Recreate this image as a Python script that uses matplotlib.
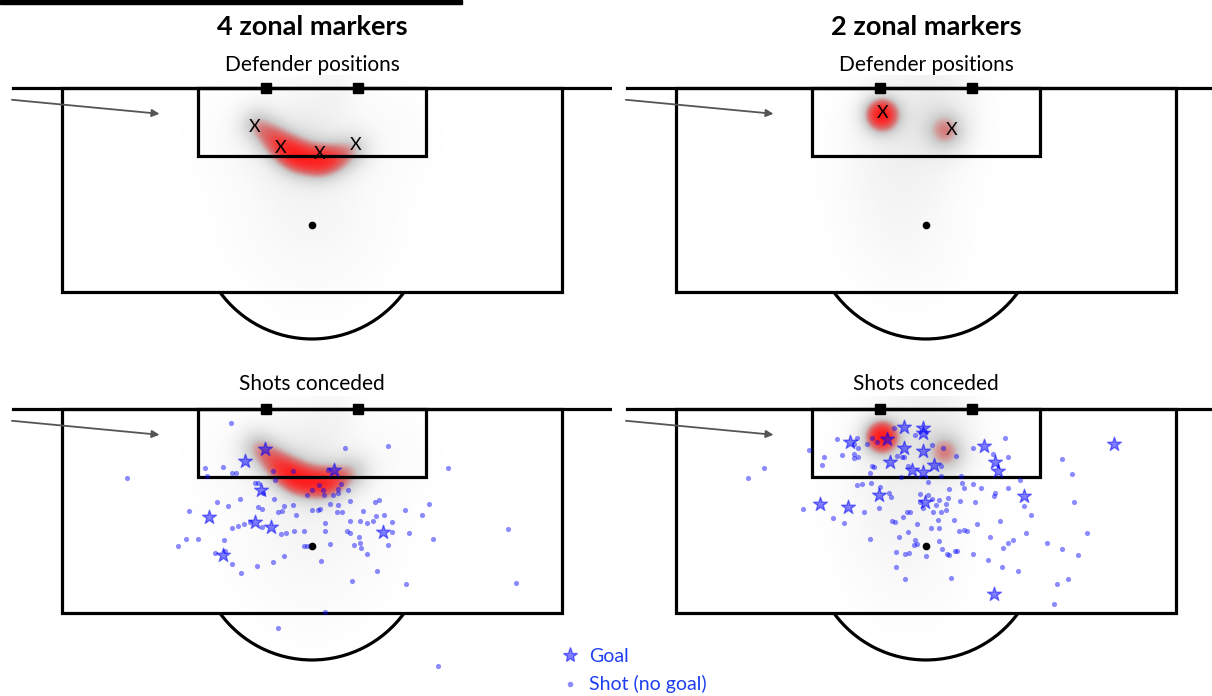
import numpy as np
import matplotlib
matplotlib.use('Agg')
import matplotlib.pyplot as plt
from matplotlib.colors import LinearSegmentedColormap
from matplotlib.patches import Rectangle, Arc
from matplotlib.lines import Line2D

plt.rcParams['font.family'] = ['Lato', 'DejaVu Sans']

############### 0. Data (metres: x across the box from the centre, y out from the goal line)
titles = ['4 zonal markers', '2 zonal markers']
row_titles = ['Defender positions', 'Shots conceded']

# average zonal marker positions
marks4_x = [-4.6, -2.5, 0.65, 3.55]
marks4_y = [3.15, 4.84, 5.3, 4.6]
marks2_x = [-3.47, 2.1]
marks2_y = [2.0, 3.4]

# defender density kernels: centre, weight, spread
heat4_x = [-4.5, -3.3, -2.2, -1.0, 0.6, 2.0, 3.4, -0.5, -1.0, -6.0, 6.0, 1.8, 0.0, -3.5, 3.5, 0.0]
heat4_y = [3.0, 4.0, 5.0, 5.7, 6.0, 5.7, 5.0, 4.8, 3.5, 4.5, 4.0, 0.2, 9.0, 11.0, 11.0, 15.0]
heat4_w = [0.55, 0.65, 0.85, 1.0, 1.0, 0.7, 0.45, 0.25, 0.08, 0.04, 0.04, 0.07, 0.05, 0.03, 0.03, 0.03]
heat4_s = [0.95, 0.95, 0.95, 0.95, 0.95, 0.95, 0.95, 2.2, 3.0, 2.5, 2.5, 1.2, 3.0, 3.0, 3.0, 3.0]

heat2_x = [-3.6, 1.6, -1.0, -2.5, -1.5, 1.0]
heat2_y = [2.2, 3.5, 3.0, 8.0, 13.0, 1.0]
heat2_w = [1.0, 0.45, 0.13, 0.05, 0.03, 0.07]
heat2_s = [0.95, 1.05, 2.8, 3.0, 3.0, 2.0]

# shots conceded, 4 zonal markers
goals4_x = [-3.8, -5.4, 1.8, -4.1, -8.3, -4.6, -3.3, 5.7, -7.2]
goals4_y = [3.2, 4.2, 4.9, 6.5, 8.7, 9.1, 9.5, 9.9, 11.8]
shots4_x = [-6.56, 2.66, 6.15, 10.94, -14.92, -8.60, -7.15, -6.48, -6.13, -8.44,
            -3.12, -1.51, 1.27, -2.96, -4.60, -4.33, 0.59, 2.34, 0.02, 0.86,
            2.07, 2.93, -0.38, 0.99, 1.72, 2.07, -3.93, -3.04, -5.81, -7.64,
            -6.77, -4.33, -4.01, -2.28, -1.53, -2.42, -2.74, -1.29, 0.02, 0.46,
            0.67, -9.90, 3.09, 1.45, 2.07, 5.10, 5.40, 9.46, 2.04, 2.40,
            4.11, 7.52, 8.87, 5.83, 5.14, 1.05, -6.45, -5.94, -5.46, -5.00,
            -4.06, -2.52, -2.12, -1.45, -0.67, 1.05, 3.06, 3.85, 4.44, 4.90,
            6.48, 2.85, 3.09, 6.48, 7.85, 3.77, 9.73, 15.81, -10.14, -9.19,
            -7.07, -10.83, -7.82, -6.99, -0.67, -0.38, -2.26, 1.45, 3.41, 3.85,
            3.93, 6.15, 4.46, -6.43, -4.44, -3.12, 0.70, -5.75, 5.22, 3.25,
            7.58, 16.45, 1.02, -2.72, 10.19]
shots4_y = [1.15, 3.12, 2.96, 4.73, 5.56, 4.73, 4.65, 5.16, 5.16, 5.40,
            4.98, 4.98, 4.94, 5.73, 5.94, 5.94, 6.13, 6.02, 6.56, 6.56,
            6.48, 6.53, 6.94, 6.96, 6.96, 6.80, 6.80, 7.23, 7.23, 7.48,
            7.80, 7.88, 8.09, 7.80, 7.72, 8.25, 8.33, 8.57, 8.17, 8.17,
            8.09, 8.25, 7.40, 7.66, 7.72, 7.50, 7.31, 7.64, 8.31, 8.31,
            8.25, 8.15, 8.57, 8.57, 8.65, 9.17, 9.62, 9.44, 9.27, 9.14,
            9.52, 10.10, 10.02, 9.86, 9.86, 9.86, 9.01, 9.01, 9.22, 9.01,
            9.11, 9.86, 10.00, 9.94, 10.02, 10.30, 10.48, 9.70, 10.46, 10.46,
            10.54, 11.05, 11.64, 11.43, 11.05, 11.05, 11.83, 10.89, 10.94, 10.78,
            11.23, 10.97, 11.67, 12.50, 12.69, 12.31, 12.26, 13.25, 13.09, 13.87,
            14.11, 14.03, 16.35, 17.64, 20.70]

# shots conceded, 2 zonal markers
goals2_x = [-1.75, -0.27, -0.27, -6.15, -3.12, -1.75, -0.27, -2.90, -1.10, -0.22,
            0.65, -3.79, -0.08, -8.55, -6.27, 4.68, 5.56, 5.78, 7.93, 15.14, 5.51]
goals2_y = [1.43, 1.56, 1.96, 2.69, 2.42, 3.17, 3.39, 4.30, 4.92, 5.06,
            4.52, 6.94, 7.48, 7.69, 7.90, 2.96, 4.30, 5.00, 6.99, 2.82, 14.90]
shots2_x = [-2.56, -7.15, -5.54, -5.81, -5.46, -4.73, -4.33, -3.98, -0.91, 0.46,
            -9.44, -8.25, -6.80, -5.81, -5.81, -5.46, -2.36, -1.91, -1.77, -8.41,
            -4.35, -4.17, -1.48, -4.52, -2.02, 0.19, -5.54, -5.14, -4.44, -3.73,
            -2.96, -2.82, -3.77, -0.51, 0.19, -0.51, 0.78, -9.90, -7.48, -6.64,
            -5.02, -2.74, -2.52, -1.88, -1.56, -1.31, -0.27, 0.59, 0.99, -0.75,
            0.38, -1.48, -4.52, -2.15, -0.86, 1.05, -0.94, -0.75, -2.44, -1.69,
            -1.40, -0.02, -2.44, 1.40, 2.42, 3.77, 1.21, 6.40, 5.40, 6.59,
            10.94, 11.80, 1.23, 2.82, 2.93, 3.79, 7.56, 1.83, 3.09, 4.44,
            6.59, 5.56, 5.46, 0.48, 1.02, 1.80, 2.74, 3.95, 11.96, 1.64,
            7.88, 1.23, 1.61, 8.47, 2.23, 4.11, 5.99, 1.05, 2.66, 3.09,
            3.28, 8.04, 12.98, 5.14, 1.27, 1.72, 1.88, 2.31, 2.50, 3.77,
            6.19, 6.59, 7.02, 9.76, 10.97, 12.23, 4.98, 6.15, 7.44, -1.69,
            2.04, 10.59, 11.48, 10.32, -13.04, -14.34]
shots2_y = [1.51, 2.42, 2.31, 2.80, 3.12, 2.85, 2.36, 2.69, 2.10, 2.90,
            3.28, 3.90, 3.71, 3.65, 3.98, 3.85, 3.77, 3.90, 3.90, 4.52,
            4.57, 4.65, 4.60, 5.19, 5.46, 5.86, 6.13, 6.02, 5.94, 6.27,
            6.80, 7.07, 7.96, 6.83, 6.94, 7.48, 7.74, 8.06, 8.77, 9.19,
            8.28, 9.01, 9.14, 8.73, 8.33, 8.33, 8.01, 8.33, 8.93, 9.27,
            9.62, 9.90, 10.48, 10.32, 10.54, 10.65, 10.97, 10.86, 11.51, 11.72,
            11.61, 11.83, 12.77, 3.12, 3.79, 3.12, 4.62, 2.36, 3.65, 3.90,
            4.03, 5.24, 5.38, 5.40, 5.94, 6.05, 5.70, 6.43, 6.35, 6.35,
            6.35, 6.80, 6.99, 7.23, 7.31, 7.18, 7.40, 7.48, 7.48, 7.64,
            7.80, 8.30, 8.15, 8.55, 8.93, 9.25, 9.01, 9.60, 9.86, 9.73,
            9.86, 10.02, 10.02, 10.35, 11.31, 11.67, 11.80, 11.43, 11.48, 11.72,
            11.23, 10.78, 10.54, 10.81, 11.31, 11.75, 12.18, 12.77, 13.09, 13.71,
            13.60, 14.11, 13.71, 15.73, 4.76, 5.59]

# corner delivery arrow
arrow_from = (-24.2, 0.95)
arrow_to = (-12.3, 2.08)

############### 1. Pitch geometry and styles
BOX_HALF, BOX_DEPTH = 20.16, 16.45
SIX_HALF, SIX_DEPTH = 9.19, 5.48
GOAL_HALF = 3.7
SPOT = 11.05
ARC_R = 9.19
LINE_END = 24.1
LW = 2.3

heat_cmap = LinearSegmentedColormap.from_list('defenders', [
    (0.00, '#ffffff'), (0.05, '#f6f6f6'), (0.15, '#e9e9e9'),
    (0.35, '#cdcdcd'), (0.55, '#d77070'), (0.75, '#f43c3c'), (1.00, '#ff1a1a')])

W, H = 1212, 696
PX_PER_M = 12.4


def draw_pitch(ax):
    ax.plot([-LINE_END, LINE_END], [0, 0], color='black', lw=LW, zorder=3)
    ax.add_patch(Rectangle((-BOX_HALF, 0), 2 * BOX_HALF, BOX_DEPTH, fill=False,
                           ec='black', lw=LW, zorder=3))
    ax.add_patch(Rectangle((-SIX_HALF, 0), 2 * SIX_HALF, SIX_DEPTH, fill=False,
                           ec='black', lw=LW, zorder=3))
    ax.add_patch(Arc((0, SPOT), 2 * ARC_R, 2 * ARC_R, theta1=36, theta2=144,
                     ec='black', lw=LW, zorder=3))
    ax.plot([-GOAL_HALF, GOAL_HALF], [0, 0], ls='', marker='s', ms=7.5,
            color='black', zorder=4)
    ax.plot([0], [SPOT], marker='o', ms=4.5, color='black', zorder=4)
    ax.annotate('', xy=arrow_to, xytext=arrow_from,
                arrowprops=dict(arrowstyle='-|>', color='#555555', lw=1.3,
                                mutation_scale=11, shrinkA=0, shrinkB=0), zorder=4)


def draw_heat(ax, hx, hy, hw, hs, xlim, ylim):
    gx = np.arange(xlim[0], xlim[1], 0.1)
    gy = np.arange(ylim[0], ylim[1], 0.1)
    X, Y = np.meshgrid(gx, gy)
    dens = np.zeros_like(X)
    for cx, cy, w, s in zip(hx, hy, hw, hs):
        dens += w * np.exp(-((X - cx) ** 2 + (Y - cy) ** 2) / (2 * s ** 2))
    dens /= dens.max()
    ax.imshow(dens, cmap=heat_cmap, vmin=0, vmax=1, origin='lower',
              extent=(gx[0], gx[-1], gy[0], gy[-1]), interpolation='bilinear',
              aspect='auto', zorder=0)


def place_axes(fig, left_px, right_px, top_px, bottom_px, centre_px, goal_px):
    ax = fig.add_axes([left_px / W, 1 - bottom_px / H,
                       (right_px - left_px) / W, (bottom_px - top_px) / H])
    xlim = ((left_px - centre_px) / PX_PER_M, (right_px - centre_px) / PX_PER_M)
    ylim = ((top_px - goal_px) / PX_PER_M, (bottom_px - goal_px) / PX_PER_M)
    return ax, xlim, ylim


fig = plt.figure(figsize=(W / 100, H / 100), dpi=100)
fig.patch.set_facecolor('white')

columns = [
    dict(left=0, right=612, centre=312, heat=(heat4_x, heat4_y, heat4_w, heat4_s),
         marks=(marks4_x, marks4_y), goals=(goals4_x, goals4_y), shots=(shots4_x, shots4_y)),
    dict(left=614, right=1212, centre=926, heat=(heat2_x, heat2_y, heat2_w, heat2_s),
         marks=(marks2_x, marks2_y), goals=(goals2_x, goals2_y), shots=(shots2_x, shots2_y)),
]
rows = [dict(top=75, bottom=362, goal=88), dict(top=396, bottom=696, goal=409)]

for ci, col in enumerate(columns):
    for ri, row in enumerate(rows):
        ax, xlim, ylim = place_axes(fig, col['left'], col['right'], row['top'],
                                    row['bottom'], col['centre'], row['goal'])
        draw_heat(ax, *col['heat'], xlim, ylim)
        draw_pitch(ax)
        if ri == 0:
            for mx, my in zip(*col['marks']):
                ax.text(mx, my, 'X', ha='center', va='center', fontsize=13,
                        color='black', zorder=5)
            ax.text(0, -4.9, titles[ci], ha='center', va='center', fontsize=19.5,
                    fontweight='bold', clip_on=False)
            ax.text(0, -1.85, row_titles[0], ha='center', va='center', fontsize=15,
                    clip_on=False)
        else:
            ax.scatter(*col['shots'], s=14, color='blue', alpha=0.45, lw=0, zorder=5)
            ax.scatter(*col['goals'], s=110, marker='*', color='blue', alpha=0.5,
                       lw=1, zorder=6)
            ax.text(0, -2.0, row_titles[1], ha='center', va='center', fontsize=15,
                    clip_on=False)
        ax.set_xlim(xlim)
        ax.set_ylim(ylim[1], ylim[0])
        ax.axis('off')

# black rule along the top edge
fig.add_artist(Rectangle((0, 1 - 4 / H), 462 / W, 4 / H, transform=fig.transFigure,
                         color='black', zorder=10))

handles = [Line2D([], [], ls='', marker='*', ms=11, color='blue', alpha=0.5),
           Line2D([], [], ls='', marker='o', ms=4, color='blue', alpha=0.45, mew=0)]
fig.legend(handles, ['Goal', 'Shot (no goal)'], loc='upper left',
           bbox_to_anchor=(551 / W, 1 - 638 / H), frameon=False, fontsize=14,
           labelcolor='#1f3ff0', borderpad=0, handlelength=1.0,
           handletextpad=0.45, labelspacing=0.55)

fig.savefig('out.png', dpi=100)
